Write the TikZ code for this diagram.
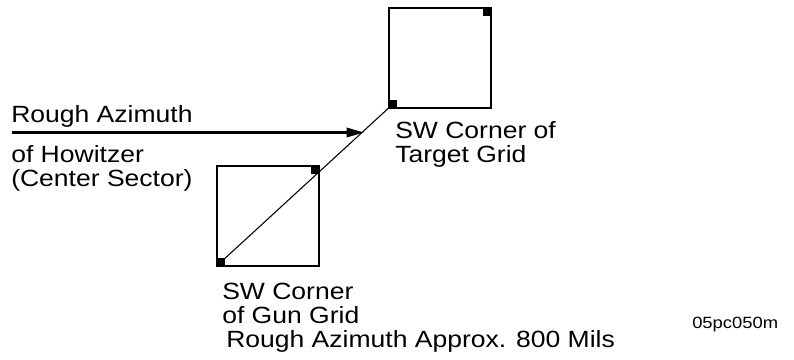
\documentclass[tikz,border=0pt]{standalone}
\usepackage{fontspec}
\setmainfont[FakeStretch=1.13]{Liberation Sans}
\usetikzlibrary{arrows.meta}
\begin{document}
\begin{tikzpicture}[x=0.75pt,y=-0.75pt,
  grid/.style={draw,line width=1.6pt,minimum width=76.5pt,minimum height=75pt,inner sep=0pt,outer sep=0pt},
  corner/.style={fill=black,minimum size=6pt,inner sep=0pt,outer sep=0pt},
  lbl/.style={font=\fontsize{17.6pt}{18.5pt}\selectfont,inner sep=0pt,align=left,anchor=base west},
  code/.style={font=\fontsize{12.2pt}{14pt}\selectfont,inner sep=0pt,anchor=base west}]
\useasboundingbox (0,0) rectangle (794,360);
% grids
\node[grid,anchor=north west] (gun) at (217,166) {};
\node[grid,anchor=north west] (tgt) at (389,8) {};
\node[corner,anchor=south west] (gunsw) at (gun.south west) {};
\node[corner,anchor=north east] (gunne) at (gun.north east) {};
\node[corner,anchor=south west] (tgtsw) at (tgt.south west) {};
\node[corner,anchor=north east] (tgtne) at (tgt.north east) {};
% diagonal
\draw[line width=0.8pt] (gunsw.center) -- (tgtsw.center);
% arrow
\coordinate (astart) at (12,132.5);
\coordinate (aend) at (364,132.5);
\draw[line width=1.7pt,-{Triangle[length=13pt,width=7pt]}] (astart) -- (aend);
% labels (base = baseline of last line)
\node[lbl] (rough) at (11,123) {Rough Azimuth};
\node[lbl] (howitzer) at (11,187) {of Howitzer\\(Center Sector)};
\node[lbl] (tgtlbl) at (395,163) {SW Corner of\\Target Grid};
\node[lbl] (gunlbl) at (222,324) {SW Corner\\of Gun Grid};
\node[lbl] (approx) at (226,347) {Rough Azimuth Approx. 800 Mils};
\node[code] (codelbl) at (692,328) {05pc050m};
\end{tikzpicture}
\end{document}
